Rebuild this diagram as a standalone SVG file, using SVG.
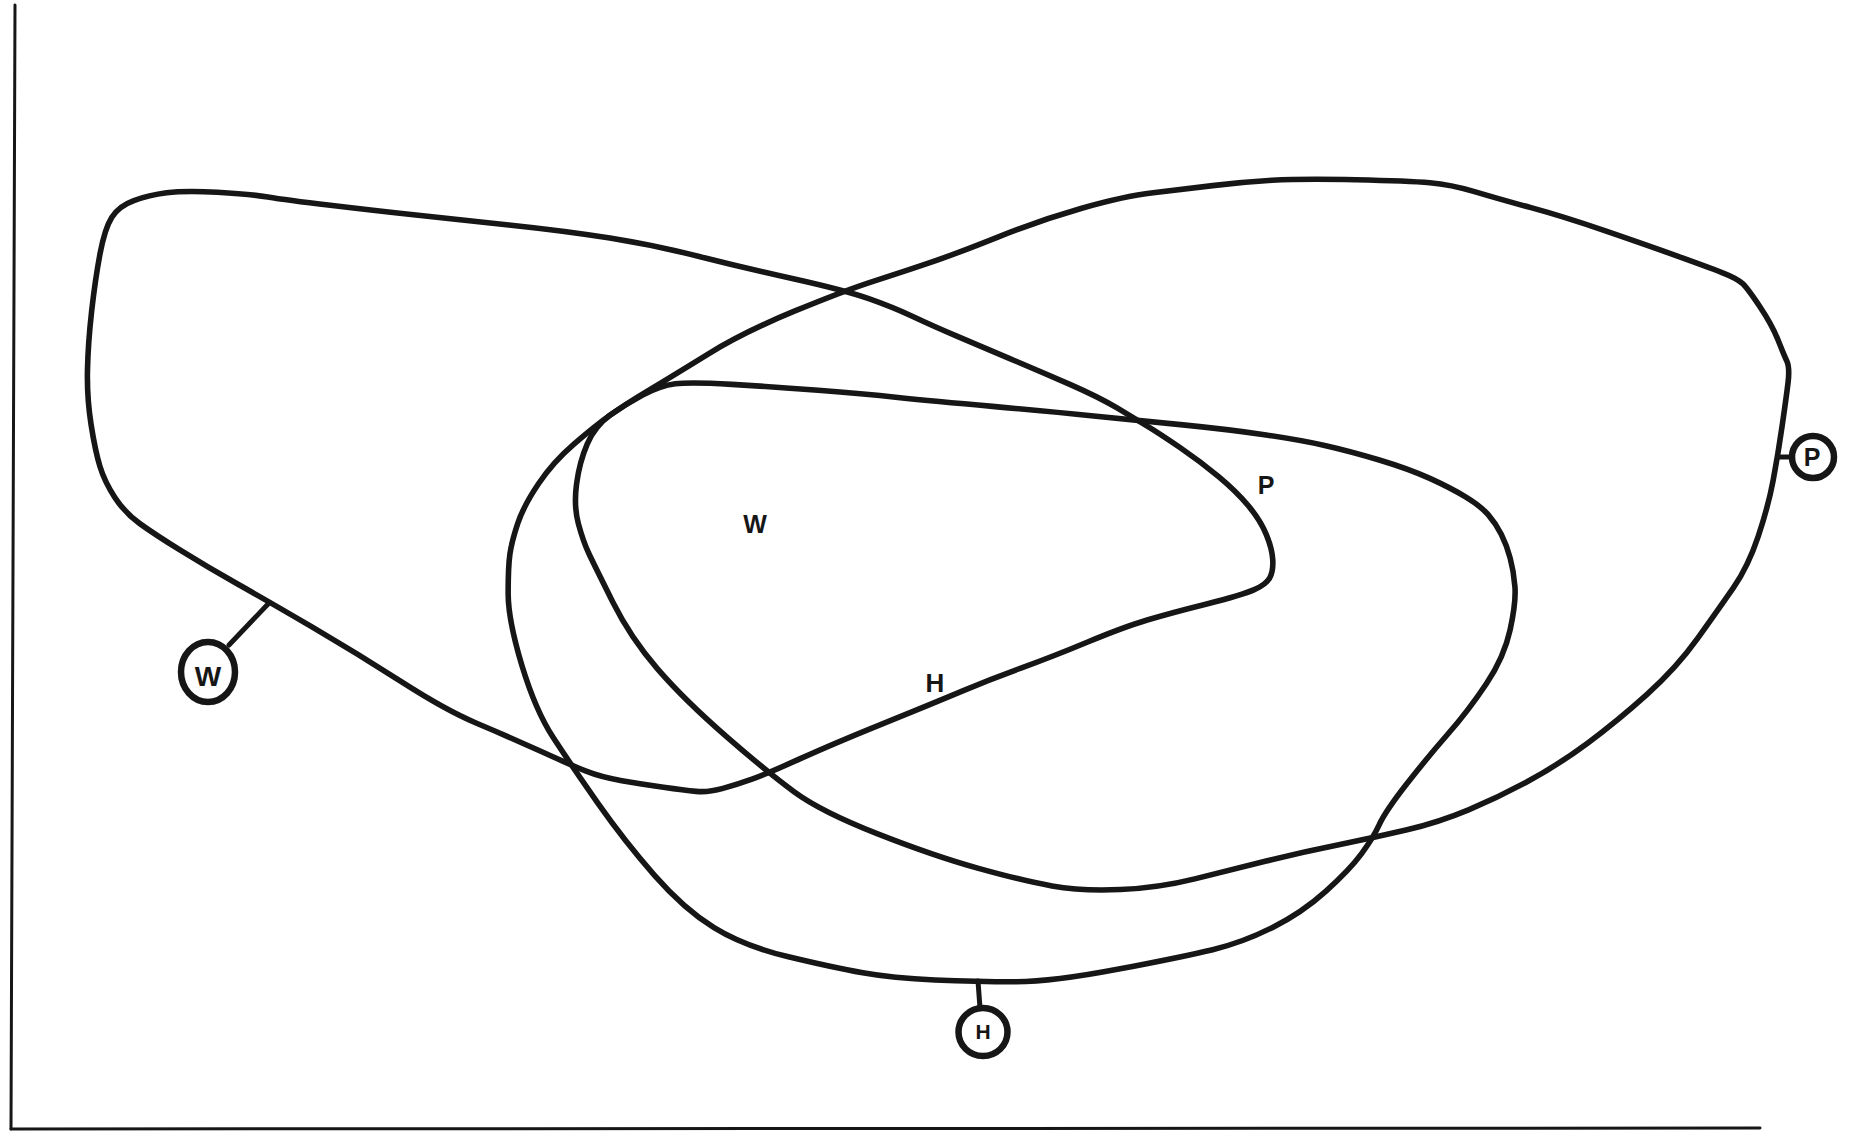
<svg xmlns="http://www.w3.org/2000/svg" width="1866" height="1133" viewBox="0 0 1866 1133">
<style>
.frame{fill:none;stroke:#161616;stroke-width:3;stroke-linecap:round}
.curve{fill:none;stroke:#161616;stroke-width:4.7;stroke-linejoin:round;stroke-linecap:round}
.tag{fill:#fff;stroke:#161616;stroke-width:6.5}
.lead{fill:none;stroke:#161616;stroke-width:5;stroke-linecap:round}
.lbl{font-family:"Liberation Sans",Arial,sans-serif;font-weight:bold;fill:#161616;text-anchor:middle}
</style>
<rect width="1866" height="1133" fill="#fff"/>
<g id="frame">
<line class="frame" x1="15" y1="5" x2="11" y2="1129"/>
<line class="frame" x1="11" y1="1129" x2="1760" y2="1128"/>
</g>
<g id="set-W">
<path class="curve" transform="scale(1.19005)" d="M262.5,527 Q225,505 200,491 Q175,477 152.5,463 Q130,449 117.5,440 Q105,431 96.5,418 Q88,405 84,392 Q80,379 76.5,356.5 Q73,334 73.5,311 Q74,288 77,261.5 Q80,235 84,213.5 Q88,192 94,182.5 Q100,173 112.5,168.5 Q125,164 140,162 Q155,160 182.5,161.5 Q210,163 225,165.5 Q240,168 277.5,172.5 Q315,177 347.5,180.5 Q380,184 427.5,189 Q475,194 512.5,200 Q550,206 587.5,215.5 Q625,225 667.5,234.5 Q710,244 730,251 Q750,258 767,266 Q784,274 804,282.5 Q824,291 849,301.5 Q874,312 899,323 Q924,334 939,343 Q954,352 964,358 Q974,364 991.5,376 Q1009,388 1024,400.5 Q1039,413 1049,425 Q1059,437 1064,449 Q1069,461 1069.5,470.5 Q1070,480 1067,485.5 Q1064,491 1054,495.5 Q1044,500 1014,507.5 Q984,515 964,521 Q944,527 914,539.5 Q884,552 859,561 Q834,570 809,580.5 Q784,591 742,608 Q700,625 672.5,637.5 Q645,650 632.5,654.5 Q620,659 607.5,662.5 Q595,666 585,665 Q575,664 557.5,661.5 Q540,659 522.5,656 Q505,653 492.5,648 Q480,643 452.5,630.5 Q425,618 400,607.5 Q375,597 337.5,573 Q300,549 262.5,527 Z"/>
<text class="lbl" x="755" y="533" font-size="25">W</text>
</g>
<g id="set-P">
<path class="curve" transform="scale(1.19005)" d="M1490,403.5 Q1494,382 1497.5,358 Q1501,334 1502.5,321.5 Q1504,309 1501.5,303.5 Q1499,298 1494,285.5 Q1489,273 1479,258 Q1469,243 1464.5,238.5 Q1460,234 1447,229 Q1434,224 1409,215 Q1384,206 1349,194 Q1314,182 1286.5,174.5 Q1259,167 1239,161 Q1219,155 1201.5,153.5 Q1184,152 1139,151 Q1094,150 1069,151.5 Q1044,153 1019,156 Q994,159 969,162 Q944,165 909,175 Q874,185 839,199 Q804,213 782,220.5 Q760,228 735,236 Q710,244 667.5,261.5 Q625,279 595,297.5 Q565,316 545,328 Q525,340 512.5,349 Q500,358 493.5,373 Q487,388 484.5,406.5 Q482,425 486,440 Q490,455 495,465.5 Q500,476 515,506 Q530,536 552.5,562 Q575,588 610,618.5 Q645,649 667.5,665.5 Q690,682 737,700.5 Q784,719 821.5,729.5 Q859,740 884,744.5 Q909,749 941.5,747.5 Q974,746 1004,738.5 Q1034,731 1064,723.5 Q1094,716 1124,710 Q1154,704 1181.5,697.5 Q1209,691 1234,680.5 Q1259,670 1284,656.5 Q1309,643 1334,624.5 Q1359,606 1384,583.5 Q1409,561 1426.5,536.5 Q1444,512 1456.5,494 Q1469,476 1477.5,450.5 Q1486,425 1490,403.5 Z"/>
<text class="lbl" x="1266" y="494" font-size="25">P</text>
</g>
<g id="set-H">
<path class="curve" transform="scale(1.19005)" d="M785.5,823.5 Q821,825 852.5,825 Q884,825 939,814.5 Q994,804 1019,798 Q1044,792 1069,779.5 Q1094,767 1114,749 Q1134,731 1144,717.5 Q1154,704 1159,693 Q1164,682 1181.5,659.5 Q1199,637 1216.5,617 Q1234,597 1249,574.5 Q1264,552 1269,529 Q1274,506 1273,493 Q1272,480 1269,469 Q1266,458 1261.5,449 Q1257,440 1250.5,432.5 Q1244,425 1231.5,417.5 Q1219,410 1201.5,402 Q1184,394 1159,386.5 Q1134,379 1114,374.5 Q1094,370 1064,365.5 Q1034,361 994,357 Q954,353 919,349.5 Q884,346 834,341.5 Q784,337 754.5,334 Q725,331 687.5,328 Q650,325 615,323 Q580,321 567.5,322.5 Q555,324 540,332 Q525,340 512.5,349 Q500,358 482.5,373 Q465,388 452.5,406.5 Q440,425 435,440 Q430,455 428.5,465.5 Q427,476 427,498.5 Q427,521 438.5,559 Q450,597 465,620 Q480,643 502.5,675 Q525,707 550,735.5 Q575,764 600,779.5 Q625,795 662.5,804 Q700,813 725,817.5 Q750,822 785.5,823.5 Z"/>
<text class="lbl" x="935" y="692" font-size="26">H</text>
</g>
<g id="connectors">
<line class="lead" x1="269" y1="603" x2="229" y2="645"/>
<line class="lead" x1="1778" y1="457" x2="1792" y2="457"/>
<line class="lead" x1="978" y1="981" x2="980" y2="1008"/>
</g>
<g id="tag-W">
<ellipse class="tag" cx="208" cy="672" rx="27" ry="30"/>
<text class="lbl" x="208" y="686" font-size="28">W</text>
</g>
<g id="tag-P">
<ellipse class="tag" cx="1813" cy="457" rx="21" ry="21"/>
<text class="lbl" x="1812" y="466" font-size="25">P</text>
</g>
<g id="tag-H">
<ellipse class="tag" cx="983" cy="1032" rx="24.5" ry="24"/>
<text class="lbl" x="983" y="1039" font-size="21">H</text>
</g>
</svg>
